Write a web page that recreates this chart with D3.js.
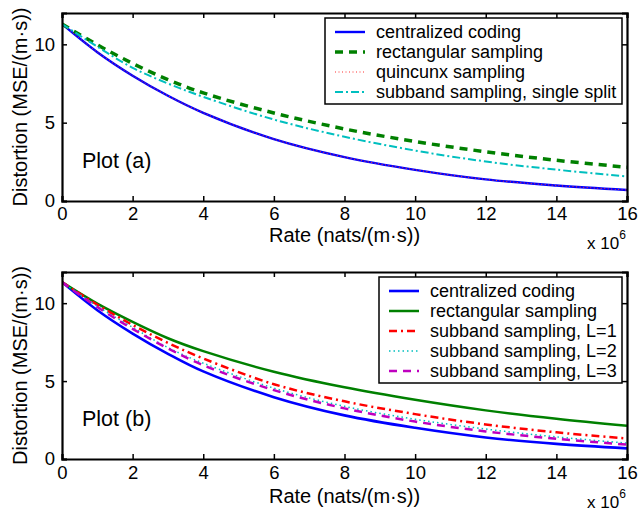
<!DOCTYPE html>
<html>
<head>
<meta charset="utf-8">
<script src="https://cdn.jsdelivr.net/npm/d3@7"></script>
<style>
  body { margin: 0; background: #fff; }
  svg { font-family: "Liberation Sans", Arial, Helvetica, sans-serif; }
</style>
</head>
<body>
<div class="chart-wrapper"></div>
<script>
// rate values, x 10^6 nats/(m.s)
const rate = [0, 1, 2, 3, 4, 6, 8, 10, 12, 14, 16];

// plot (a)
const centralA = [11.3, 9.5, 8.0, 6.72, 5.63, 3.95, 2.8, 1.99, 1.38, 0.99, 0.7];
const rectA = [11.3, 9.97, 8.78, 7.75, 6.9, 5.62, 4.6, 3.8, 3.14, 2.6, 2.15];
const quincunxA = [11.3, 9.5, 8.0, 6.72, 5.63, 3.95, 2.8, 1.99, 1.38, 0.99, 0.7];
const subbandA = [11.3, 9.85, 8.5, 7.5, 6.65, 5.2, 4.1, 3.22, 2.52, 2.0, 1.56];

// plot (b)
const centralB = [11.35, 9.55, 8.05, 6.75, 5.62, 3.97, 2.8, 2.0, 1.38, 0.97, 0.68];
const rectB = [11.35, 9.97, 8.8, 7.75, 6.92, 5.6, 4.6, 3.8, 3.12, 2.58, 2.13];
const subL1 = [11.35, 9.9, 8.6, 7.45, 6.45, 4.8, 3.7, 2.88, 2.22, 1.71, 1.32];
const subL2 = [11.35, 9.8, 8.45, 7.15, 6.15, 4.55, 3.38, 2.55, 1.92, 1.42, 1.02];
const subL3 = [11.35, 9.75, 8.35, 7.1, 6.02, 4.42, 3.25, 2.4, 1.77, 1.3, 0.92];

const xTicks = [0, 2, 4, 6, 8, 10, 12, 14, 16];
const yTicks = [0, 5, 10];

const labelsA = ["centralized coding", "rectangular sampling", "quincunx sampling", "subband sampling, single split"];
const labelsB = ["centralized coding", "rectangular sampling", "subband sampling, L=1", "subband sampling, L=2", "subband sampling, L=3"];

let panels = [
  {
    name: "Plot (a)", top: 13, bottom: 201, tickPad: 6, xlabDy: 41, expDy: 48,
    legend: { x: 325, y: 18, w: 297, h: 86, rowH: 20 },
    series: [
      { data: centralA, color: "#0000ff", width: 2.4, dash: null },
      { data: rectA, color: "#008000", width: 3.5, dash: "8,6" },
      { data: quincunxA, color: "#ff3030", width: 1, dash: "1,2.5" },
      { data: subbandA, color: "#00bfbf", width: 2, dash: "8,3,2,3" }
    ],
    labels: labelsA
  },
  {
    name: "Plot (b)", top: 272, bottom: 459, tickPad: 7, xlabDy: 44, expDy: 49,
    legend: { x: 379, y: 277, w: 243, h: 106, rowH: 20 },
    series: [
      { data: centralB, color: "#0000ff", width: 2.6, dash: null },
      { data: rectB, color: "#008000", width: 2.5, dash: null },
      { data: subL1, color: "#ff0000", width: 2.5, dash: "8,4,2,4" },
      { data: subL2, color: "#00bfbf", width: 1.5, dash: "1.5,3" },
      { data: subL3, color: "#bf00bf", width: 2.5, dash: "8,6" }
    ],
    labels: labelsB
  }
];

const left = 62, right = 627;

let svg = d3
  .select(".chart-wrapper")
  .append("svg")
  .attr("width", 639)
  .attr("height", 511);

svg.append("rect").attr("width", 639).attr("height", 511).attr("fill", "#fff");

panels.forEach((p, pi) => {
  let x = d3.scaleLinear().domain([0, 16]).range([left, right]);
  let y = d3.scaleLinear().domain([0, 12]).range([p.bottom, p.top]);
  let g = svg.append("g");

  let clipId = "clip" + pi;
  svg.append("clipPath").attr("id", clipId)
    .append("rect")
    .attr("x", left).attr("y", p.top)
    .attr("width", right - left).attr("height", p.bottom - p.top);

  let line = data => d3.line()
    .x((d, i) => x(rate[i]))
    .y(d => y(d))
    .curve(d3.curveCatmullRom.alpha(0.5))(data);

  // curves
  g.append("g")
    .attr("clip-path", `url(#${clipId})`)
    .selectAll("path")
    .data(p.series)
    .enter()
    .append("path")
    .attr("d", d => line(d.data))
    .attr("fill", "none")
    .attr("stroke", d => d.color)
    .attr("stroke-width", d => d.width)
    .attr("stroke-dasharray", d => d.dash);

  // axes: bottom/left with labels, top/right only ticks (inward)
  let tickLen = 5;
  let axB = d3.axisBottom(x).tickValues(xTicks).tickSize(-tickLen).tickPadding(p.tickPad).tickFormat(d3.format("d"));
  let axT = d3.axisTop(x).tickValues(xTicks).tickSize(-tickLen).tickFormat("");
  let axL = d3.axisLeft(y).tickValues(yTicks).tickSize(-tickLen).tickPadding(7).tickFormat(d3.format("d"));
  let axR = d3.axisRight(y).tickValues(yTicks).tickSize(-tickLen).tickFormat("");

  let axes = [
    g.append("g").attr("transform", `translate(0,${p.bottom})`).call(axB),
    g.append("g").attr("transform", `translate(0,${p.top})`).call(axT),
    g.append("g").attr("transform", `translate(${left},0)`).call(axL),
    g.append("g").attr("transform", `translate(${right},0)`).call(axR)
  ];
  axes.forEach(a => {
    a.select(".domain").attr("stroke", "#000").attr("stroke-width", 2.2);
    a.selectAll(".tick line").attr("stroke", "#000").attr("stroke-width", 1.5);
    a.selectAll(".tick text").attr("font-size", 18.5).attr("fill", "#000").attr("font-family", null);
  });
  axes[0].selectAll(".tick text").attr("dy", "0.71em");

  // legend
  let L = p.legend;
  let lg = g.append("g");
  lg.append("rect")
    .attr("x", L.x).attr("y", L.y)
    .attr("width", L.w).attr("height", L.h)
    .attr("fill", "#fff").attr("stroke", "#000").attr("stroke-width", 1.5);
  let rows = lg.selectAll(".row")
    .data(p.series)
    .enter()
    .append("g")
    .attr("transform", (d, i) => `translate(${L.x},${L.y + 14 + i * L.rowH})`);
  rows.append("line")
    .attr("x1", 10).attr("x2", 40)
    .attr("stroke", d => d.color)
    .attr("stroke-width", d => d.width)
    .attr("stroke-dasharray", d => d.dash);
  rows.append("text")
    .attr("x", 51).attr("dy", "0.35em")
    .attr("font-size", 18)
    .text((d, i) => p.labels[i]);

  // plot name
  g.append("text")
    .attr("x", 82).attr("y", p.bottom - 33)
    .attr("font-size", 21.5)
    .text(p.name);

  // axis labels
  g.append("text")
    .attr("x", (left + right) / 2).attr("y", p.bottom + p.xlabDy)
    .attr("text-anchor", "middle")
    .attr("font-size", 20)
    .text("Rate (nats/(m\u00b7s))");
  g.append("text")
    .attr("transform", `translate(27,${(p.top + p.bottom) / 2}) rotate(-90)`)
    .attr("text-anchor", "middle")
    .attr("font-size", 20)
    .text("Distortion (MSE/(m\u00b7s))");

  let ex = g.append("text")
    .attr("x", 587).attr("y", p.bottom + p.expDy)
    .attr("font-size", 17);
  ex.append("tspan").text("x 10");
  ex.append("tspan").attr("dy", -10).attr("font-size", 12).text("6");
});
</script>
</body>
</html>
